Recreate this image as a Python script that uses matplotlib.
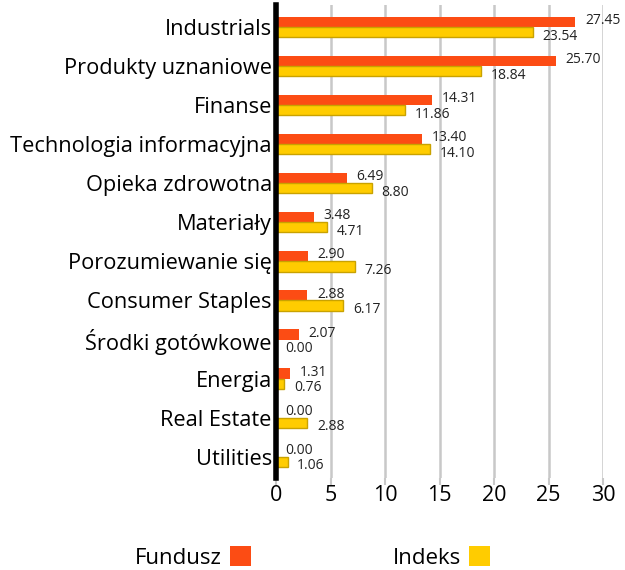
import matplotlib.pyplot as plt
from matplotlib.patches import Patch
import numpy as np

plt.rcParams['font.family'] = ['Open Sans', 'DejaVu Sans']

categories = ["Industrials", "Produkty uznaniowe", "Finanse", "Technologia informacyjna",
              "Opieka zdrowotna", "Materiały", "Porozumiewanie się", "Consumer Staples",
              "Środki gotówkowe", "Energia", "Real Estate", "Utilities"]
fundusz = [27.45, 25.70, 14.31, 13.40, 6.49, 3.48, 2.90, 2.88, 2.07, 1.31, 0.00, 0.00]
indeks = [23.54, 18.84, 11.86, 14.10, 8.80, 4.71, 7.26, 6.17, 0.00, 0.76, 2.88, 1.06]

red = '#fc4c14'
yellow = '#ffcc00'

fig = plt.figure(figsize=(6.25, 5.7), dpi=100)
ax = fig.add_axes([0.4416, 0.161, 0.5232, 0.83])

y = np.arange(len(categories))
h = 0.26
ax.barh(y - h / 2, fundusz, height=h, color=red, zorder=3)
ax.barh(y + h / 2, indeks, height=h, color=yellow, edgecolor='#c9a200', linewidth=1, zorder=3)

for i in range(len(categories)):
    ax.annotate(f"{fundusz[i]:.2f}", (fundusz[i], y[i] - h / 2), xytext=(7, 1),
                textcoords='offset points', va='center', ha='left', fontsize=10, color='#222222')
    ax.annotate(f"{indeks[i]:.2f}", (indeks[i], y[i] + h / 2), xytext=(7, -3),
                textcoords='offset points', va='center', ha='left', fontsize=10, color='#222222')

ax.set_xlim(0, 30)
ax.set_ylim(len(categories) - 0.45, -0.56)
ax.set_xticks([0, 5, 10, 15, 20, 25, 30])
ax.set_yticks(y)
ax.set_yticklabels(categories, fontsize=15.7)
ax.tick_params(axis='y', length=0, pad=3)
ax.tick_params(axis='x', length=5, width=1.5, color='#c8c8c8', labelsize=15.5, pad=0)
ax.grid(axis='x', color='#c8c8c8', linewidth=1.8, zorder=0)
for s in ['top', 'right', 'bottom']:
    ax.spines[s].set_visible(False)
ax.spines['left'].set_linewidth(4)
ax.spines['left'].set_color('black')
ax.spines['left'].set_zorder(5)

handles = [Patch(facecolor=red, label='Fundusz'), Patch(facecolor=yellow, label='Indeks')]
fig.legend(handles=handles, loc='center', bbox_to_anchor=(0.5, 0.022), ncol=2, frameon=False,
           markerfirst=False, fontsize=16, handlelength=0.95, handleheight=0.95,
           columnspacing=6.4, handletextpad=0.35)

fig.savefig('out.png', dpi=100)
